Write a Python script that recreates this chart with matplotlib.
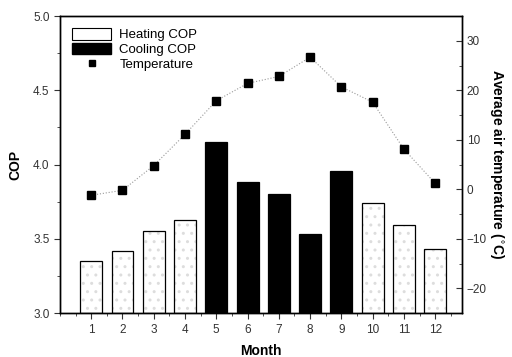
import matplotlib.pyplot as plt
from matplotlib.patches import Patch
from matplotlib.lines import Line2D
from matplotlib.ticker import MultipleLocator

plt.rcParams['font.family'] = ['Liberation Sans', 'DejaVu Sans']

# data
months = [1, 2, 3, 4, 5, 6, 7, 8, 9, 10, 11, 12]
cop = [3.35, 3.42, 3.55, 3.63, 4.15, 3.88, 3.80, 3.53, 3.96, 3.74, 3.59, 3.43]
cooling = [False, False, False, False, True, True, True, True, True, False, False, False]
temperature = [-1.2, -0.2, 4.8, 11.1, 17.9, 21.4, 22.8, 26.7, 20.7, 17.6, 8.1, 1.2]

fig = plt.figure(figsize=(5.12, 3.57), dpi=100)
ax = fig.add_axes([0.117, 0.123, 0.785, 0.832])

heat_x = [m for m, c in zip(months, cooling) if not c]
heat_y = [v for v, c in zip(cop, cooling) if not c]
cool_x = [m for m, c in zip(months, cooling) if c]
cool_y = [v for v, c in zip(cop, cooling) if c]

# heating bars: faint stipple, then black outline on top
ax.bar(heat_x, [v - 3.0 for v in heat_y], bottom=3.0, width=0.7,
       color='white', edgecolor='#dddddd', hatch='..', linewidth=0)
ax.bar(heat_x, [v - 3.0 for v in heat_y], bottom=3.0, width=0.7,
       fill=False, edgecolor='black', linewidth=0.9)
ax.bar(cool_x, [v - 3.0 for v in cool_y], bottom=3.0, width=0.7,
       color='black', edgecolor='black', linewidth=0.9)

ax.set_xlim(0, 12.85)
ax.set_ylim(3.0, 5.0)
ax.set_xticks(months)
ax.xaxis.set_minor_locator(MultipleLocator(0.5))
ax.yaxis.set_major_locator(MultipleLocator(0.5))
ax.yaxis.set_minor_locator(MultipleLocator(0.25))
ax.yaxis.set_major_formatter(plt.FormatStrFormatter('%.1f'))
ax.tick_params(which='both', direction='out', labelsize=8.5, colors='#333333')
ax.tick_params(which='major', length=4)
ax.tick_params(which='minor', length=2.5)
ax.set_xlabel('Month', fontsize=10, fontweight='bold', labelpad=6)
ax.set_ylabel('COP', fontsize=10, fontweight='bold', labelpad=8)

ax2 = ax.twinx()
ax2.plot(months, temperature, linestyle=':', color='#999999', linewidth=0.8,
         marker='s', markersize=6, markerfacecolor='black', markeredgecolor='black')
ax2.set_ylim(-25, 35)
ax2.yaxis.set_major_locator(MultipleLocator(10))
ax2.yaxis.set_minor_locator(MultipleLocator(5))
ax2.tick_params(which='both', direction='in', labelsize=8.5, colors='#333333')
ax2.tick_params(which='major', length=4)
ax2.tick_params(which='minor', length=2.5)
ax2.set_ylabel('Average air temperature ($^{\\circ}$C)', fontsize=10,
               fontweight='bold', rotation=270, labelpad=14)

for a in (ax, ax2):
    for s in a.spines.values():
        s.set_linewidth(1.0)

handles = [
    Patch(facecolor='white', edgecolor='black', linewidth=0.8, label='Heating COP'),
    Patch(facecolor='black', edgecolor='black', label='Cooling COP'),
    Line2D([], [], linestyle='none', marker='s', markersize=5,
           color='black', label='Temperature'),
]
ax.legend(handles=handles, loc='upper left', frameon=False, fontsize=9.5,
          handlelength=3.0, handleheight=1.0, handletextpad=0.6,
          labelspacing=0.1, borderaxespad=0.5)

fig.savefig('out.png', dpi=100)
